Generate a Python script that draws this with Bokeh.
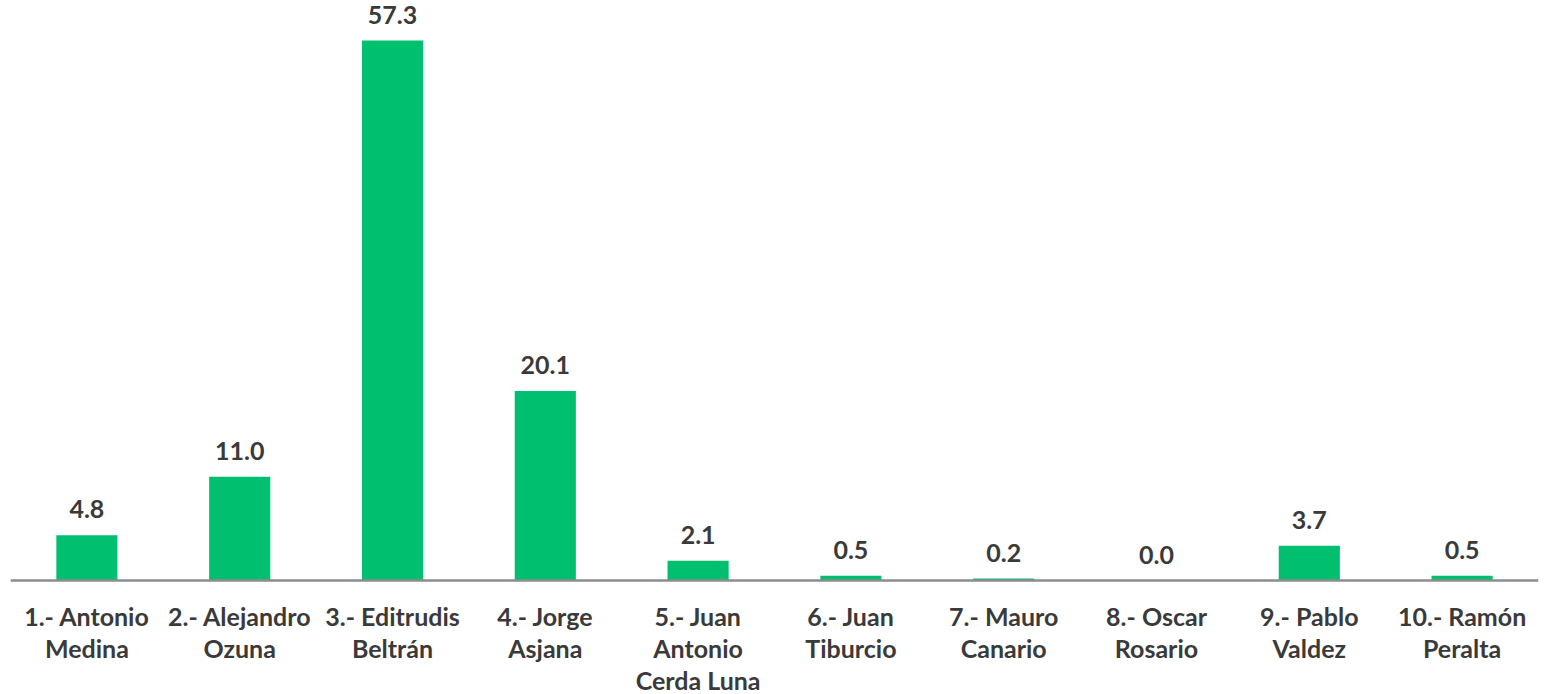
from bokeh.plotting import figure
from bokeh.models import Range1d, FactorRange, ColumnDataSource, Span
from bokeh.core.properties import value
from bokeh.embed import file_html
from bokeh.resources import INLINE

categories = [
    "1.- Antonio\nMedina",
    "2.- Alejandro\nOzuna",
    "3.- Editrudis\nBeltrán",
    "4.- Jorge\nAsjana",
    "5.- Juan\nAntonio\nCerda Luna",
    "6.- Juan\nTiburcio",
    "7.- Mauro\nCanario",
    "8.- Oscar\nRosario",
    "9.- Pablo\nValdez",
    "10.- Ramón\nPeralta",
]
values = [4.8, 11.0, 57.3, 20.1, 2.1, 0.5, 0.2, 0.0, 3.7, 0.5]

W, H = 1546, 694
ppu = 9.424           # pixels per unit
zero_px = 580         # y of zero from top of frame
y_start = -(H - zero_px) / ppu
y_end = zero_px / ppu

p = figure(width=W, height=H, output_backend="svg", toolbar_location=None,
           x_range=FactorRange(factors=categories, range_padding=0),
           y_range=Range1d(y_start, y_end),
           min_border_left=10, min_border_right=8, min_border_top=0, min_border_bottom=0)
p.axis.visible = False
p.grid.visible = False
p.outline_line_color = None
p.background_fill_color = "white"
p.border_fill_color = "white"

src = ColumnDataSource(dict(cat=categories, val=values,
                            lab=[f"{v:.1f}" for v in values]))
p.vbar(x="cat", top="val", bottom=0, width=0.4, source=src,
       fill_color="#00BF6F", line_color=None)

p.add_layout(Span(location=0, dimension="width", line_color="#8C8C8C", line_width=2.5))

p.text(x="cat", y="val", text="lab", source=src, text_align="center",
       text_baseline="alphabetic", y_offset=-26, text_font=value("Lato"),
       text_font_style="bold", text_font_size="25px", text_color="#3A3A3A")

lx, ly, lt, lo = [], [], [], []
for c in categories:
    for i, line in enumerate(c.split("\n")):
        lx.append(c)
        ly.append(0)
        lt.append(line)
        lo.append(35 + i * 32)
lsrc = ColumnDataSource(dict(x=lx, y=ly, t=lt, o=lo))
p.text(x="x", y="y", text="t", y_offset="o", source=lsrc, text_align="center",
       text_baseline="alphabetic", text_font=value("Lato"), text_font_style="bold",
       text_font_size="25px", text_color="#3A3A3A")

open("out.html", "w").write(file_html(p, INLINE))
